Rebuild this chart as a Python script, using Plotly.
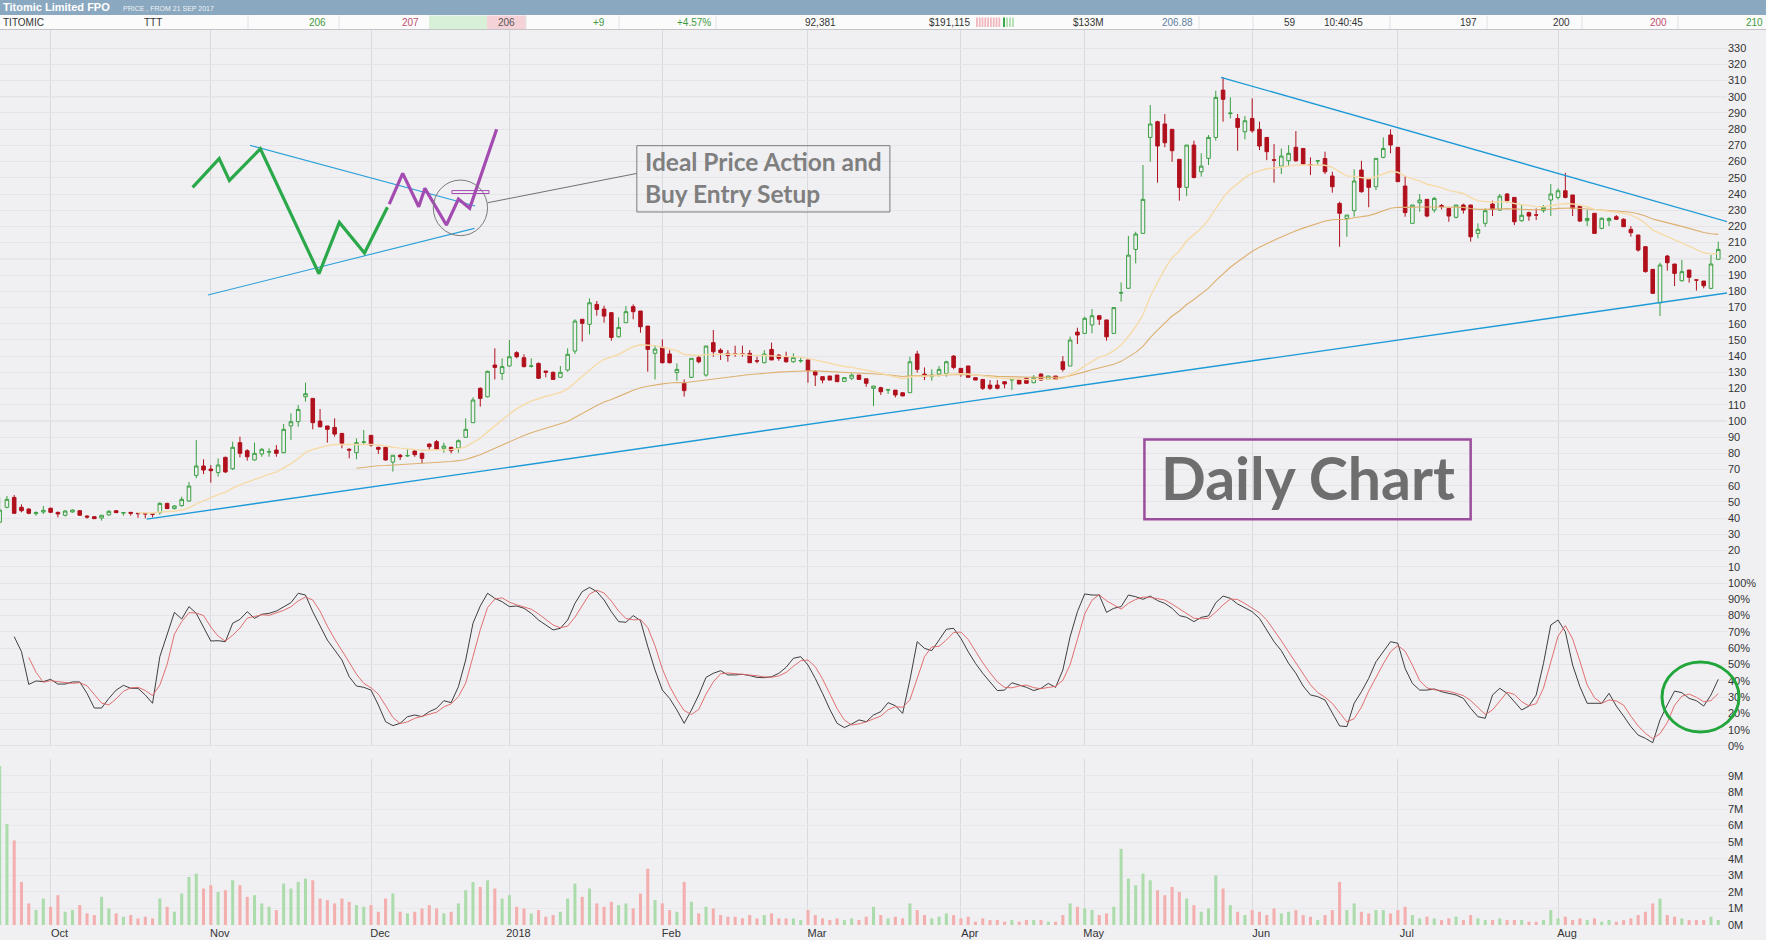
import pandas as pd
import plotly.graph_objects as go

W, H = 1766, 940
BG = "#f0f0f3"

# daily bars, TTT (cents), 21 Sep 2017 -> 31 Aug 2018
OPEN = [
    37.5, 46.7, 52.8, 46.7, 45.6, 42.8, 43.8, 46.1, 43.6, 41.8,
    43.8, 44.6, 41.3, 40.9, 40.1, 42.0, 44.6, 43.2, 43.6, 43.0,
    43.0, 42.6, 43.4, 49.1, 45.9, 47.7, 50.6, 66.4, 72.2, 70.3,
    68.1, 77.5, 70.5, 86.6, 81.6, 75.9, 79.6, 80.8, 82.0, 80.4,
    96.9, 99.5, 114.9, 113.9, 99.9, 96.9, 96.0, 92.3, 82.5, 80.4,
    86.8, 91.1, 83.7, 83.7, 74.6, 78.8, 78.4, 81.4, 80.0, 85.7,
    87.2, 83.1, 83.7, 83.3, 89.9, 98.9, 120.1, 114.9, 134.5, 129.3,
    133.9, 142.1, 139.0, 133.7, 135.5, 130.8, 130.0, 126.9, 131.4, 143.1,
    162.7, 159.6, 171.9, 169.0, 166.8, 151.9, 160.6, 170.5, 167.8, 158.5,
    141.7, 145.4, 141.3, 129.8, 123.2, 126.9, 139.2, 128.3, 148.3, 143.7,
    141.7, 141.4, 141.4, 141.7, 137.1, 135.9, 144.1, 140.6, 139.6, 136.5,
    137.0, 137.6, 130.4, 127.3, 127.7, 128.3, 124.4, 126.3, 128.3, 126.0,
    120.1, 120.5, 119.0, 119.0, 117.4, 117.4, 141.3, 128.9, 127.3, 128.9,
    129.3, 140.0, 132.4, 133.9, 126.7, 125.6, 122.1, 122.1, 124.2, 125.2,
    125.6, 126.3, 123.6, 128.9, 125.6, 127.7, 136.5, 133.9, 154.8, 154.0,
    159.2, 164.9, 162.3, 154.0, 178.9, 181.8, 205.8, 215.7, 274.9, 284.6,
    283.2, 279.9, 261.4, 244.1, 270.2, 253.7, 262.0, 274.9, 304.1, 289.6,
    286.6, 278.4, 286.6, 279.9, 274.9, 261.1, 257.2, 260.5, 268.8, 268.1,
    258.0, 260.4, 261.9, 251.1, 234.2, 224.9, 229.7, 254.8, 249.0, 244.5,
    262.6, 276.4, 268.8, 244.9, 221.9, 234.6, 236.7, 230.1, 232.9, 231.1,
    225.6, 233.2, 233.2, 215.7, 221.9, 233.8, 230.1, 240.0, 237.9, 223.5,
    228.5, 227.1, 229.7, 236.3, 237.9, 242.0, 239.4, 232.6, 223.5, 228.1,
    218.8, 223.5, 226.0, 224.4, 218.2, 214.7, 207.5, 193.5, 172.9, 201.7,
    196.8, 186.5, 193.1, 187.0, 186.3, 181.8, 199.7,
]
HIGH = [
    53.0, 53.7, 54.3, 48.5, 46.1, 44.2, 47.5, 46.5, 44.0, 45.0,
    45.4, 45.0, 41.8, 41.1, 41.8, 45.0, 45.0, 43.8, 43.8, 43.0,
    43.0, 42.6, 49.9, 49.5, 48.0, 53.2, 62.3, 88.2, 76.3, 72.8,
    76.9, 78.0, 87.2, 90.3, 82.5, 86.6, 83.1, 83.1, 85.1, 98.1,
    104.7, 109.8, 123.6, 113.9, 107.3, 96.9, 101.6, 92.3, 83.1, 89.2,
    94.4, 91.1, 84.1, 84.1, 78.8, 79.6, 82.5, 82.0, 80.4, 86.2,
    88.2, 86.6, 84.1, 88.6, 101.6, 114.5, 120.7, 131.0, 144.8, 138.6,
    149.9, 143.0, 141.1, 138.6, 136.0, 130.8, 130.4, 133.9, 144.8, 162.7,
    162.7, 175.6, 174.0, 171.1, 166.8, 163.9, 170.9, 171.9, 167.8, 158.5,
    146.2, 150.3, 143.7, 135.5, 125.6, 138.6, 140.6, 146.2, 156.1, 144.8,
    143.7, 146.4, 146.4, 143.7, 139.6, 143.7, 148.3, 141.3, 142.7, 141.7,
    139.2, 137.6, 131.4, 127.3, 127.7, 128.3, 126.7, 129.3, 128.3, 126.0,
    121.5, 121.1, 119.6, 119.0, 117.4, 139.6, 143.3, 133.0, 131.8, 133.9,
    137.1, 140.6, 132.4, 133.9, 126.7, 125.6, 125.2, 125.2, 124.2, 125.6,
    125.6, 126.3, 128.3, 129.3, 127.7, 127.7, 140.0, 152.0, 157.5, 164.3,
    169.0, 164.9, 162.3, 169.9, 185.5, 214.1, 216.7, 257.9, 294.9, 285.2,
    289.3, 279.9, 261.4, 270.2, 272.9, 265.1, 276.4, 303.7, 312.0, 299.6,
    289.3, 288.1, 299.0, 284.6, 274.9, 270.8, 268.1, 270.2, 278.8, 268.1,
    262.6, 260.5, 266.1, 253.7, 235.2, 227.0, 255.2, 260.5, 249.0, 262.0,
    274.9, 279.9, 268.8, 251.1, 233.2, 240.0, 236.7, 238.3, 233.8, 231.1,
    233.2, 234.0, 233.2, 221.9, 231.1, 235.9, 240.0, 240.6, 237.9, 233.2,
    229.1, 231.1, 233.2, 246.1, 243.5, 253.1, 239.4, 232.6, 230.1, 228.1,
    225.6, 225.6, 227.0, 225.0, 220.2, 214.7, 207.5, 193.5, 197.6, 202.4,
    196.8, 199.3, 193.1, 187.1, 186.3, 202.4, 210.6,
]
LOW = [
    37.0, 46.1, 42.6, 43.6, 42.4, 41.5, 42.6, 43.4, 40.5, 41.0,
    43.4, 41.6, 39.7, 39.5, 38.5, 41.5, 43.2, 41.5, 41.5, 40.3,
    39.9, 40.5, 42.2, 45.6, 45.4, 47.1, 50.0, 64.6, 67.2, 61.9,
    65.6, 68.0, 69.7, 77.5, 75.5, 75.5, 77.9, 77.9, 77.9, 80.0,
    88.2, 96.4, 111.9, 94.8, 96.0, 86.6, 90.3, 83.1, 76.9, 76.3,
    85.7, 84.1, 79.6, 75.5, 68.7, 75.9, 77.9, 77.9, 73.8, 82.0,
    82.5, 80.4, 80.0, 80.4, 89.9, 98.9, 108.8, 114.5, 125.6, 125.2,
    133.5, 138.6, 133.0, 133.0, 126.0, 126.9, 125.6, 126.9, 130.4, 141.3,
    148.9, 153.4, 164.9, 160.6, 149.5, 151.5, 160.6, 162.7, 154.4, 130.4,
    125.6, 135.5, 135.5, 124.8, 115.0, 126.5, 135.5, 127.3, 139.6, 137.6,
    136.5, 139.6, 139.6, 135.9, 135.5, 135.5, 137.6, 137.1, 135.9, 135.9,
    135.9, 123.6, 121.5, 123.2, 125.2, 124.2, 124.4, 125.2, 125.6, 121.1,
    109.2, 116.0, 116.6, 114.5, 115.4, 117.4, 129.8, 125.2, 124.8, 127.3,
    127.3, 131.8, 127.3, 126.9, 125.2, 119.1, 119.1, 119.5, 120.1, 119.1,
    122.8, 123.2, 123.2, 124.8, 125.6, 125.6, 130.4, 133.9, 147.4, 153.6,
    154.0, 159.2, 149.5, 154.0, 173.6, 181.8, 197.2, 215.3, 259.9, 247.0,
    268.8, 259.9, 235.9, 238.7, 249.6, 250.7, 257.9, 272.9, 284.6, 286.6,
    266.7, 273.7, 277.8, 267.1, 260.9, 247.0, 252.3, 257.2, 259.9, 257.9,
    251.7, 257.9, 252.3, 240.8, 207.5, 213.6, 226.0, 240.8, 231.8, 242.4,
    262.0, 265.1, 247.6, 226.0, 221.9, 229.1, 225.6, 228.5, 230.5, 222.9,
    224.9, 227.9, 210.6, 212.6, 219.8, 226.4, 229.7, 234.7, 220.8, 222.9,
    223.5, 223.9, 228.5, 226.4, 236.7, 237.3, 226.4, 222.9, 220.2, 215.7,
    218.2, 220.2, 223.9, 219.8, 213.7, 204.4, 191.5, 178.7, 164.7, 192.7,
    183.2, 186.0, 185.3, 180.4, 181.8, 181.2, 199.7,
]
CLOSE = [
    45.0, 51.6, 43.0, 44.6, 43.0, 43.4, 44.8, 43.6, 42.6, 44.4,
    45.0, 41.8, 40.7, 39.7, 41.8, 44.2, 43.4, 43.4, 43.0, 42.8,
    42.6, 42.4, 49.1, 45.9, 47.5, 51.6, 59.8, 72.2, 69.7, 69.3,
    72.8, 68.5, 83.7, 80.0, 77.9, 80.0, 82.5, 81.0, 80.0, 94.8,
    99.5, 107.1, 116.8, 98.9, 96.4, 94.8, 91.9, 86.2, 82.0, 86.6,
    87.0, 85.1, 82.5, 75.9, 78.8, 77.9, 78.6, 79.2, 76.9, 84.1,
    82.6, 84.5, 81.6, 87.8, 94.8, 112.9, 113.9, 130.6, 133.0, 133.5,
    139.6, 139.6, 133.5, 133.9, 126.3, 130.0, 125.6, 130.0, 141.1, 161.6,
    160.2, 172.9, 168.8, 164.7, 151.5, 157.7, 167.4, 167.4, 158.1, 144.1,
    144.3, 135.9, 135.9, 131.8, 118.7, 138.6, 136.5, 146.2, 142.7, 142.1,
    140.4, 141.2, 141.2, 135.9, 136.9, 141.3, 137.6, 138.6, 136.5, 139.2,
    137.2, 131.0, 128.3, 125.2, 125.2, 124.2, 126.7, 128.3, 125.6, 123.2,
    121.5, 118.0, 119.2, 116.0, 115.4, 136.5, 131.8, 127.3, 128.3, 131.8,
    136.5, 133.0, 129.3, 126.9, 125.2, 120.1, 120.1, 120.1, 122.8, 125.6,
    122.8, 123.2, 126.9, 125.2, 127.7, 125.6, 131.8, 149.9, 153.0, 163.3,
    164.9, 162.7, 151.9, 169.9, 179.1, 202.3, 215.3, 236.7, 283.2, 269.6,
    271.6, 266.7, 244.1, 270.2, 250.2, 257.2, 274.9, 299.6, 298.4, 289.9,
    281.1, 285.2, 279.0, 269.6, 266.1, 260.9, 263.4, 265.1, 260.5, 258.5,
    257.9, 260.5, 253.7, 244.5, 228.1, 227.0, 248.0, 241.4, 244.1, 262.0,
    268.1, 270.2, 247.6, 228.5, 233.2, 236.3, 226.4, 237.3, 232.2, 226.4,
    233.2, 230.1, 213.6, 218.2, 229.7, 230.5, 238.7, 235.9, 222.9, 226.9,
    226.4, 227.0, 231.7, 240.0, 242.0, 237.9, 231.1, 223.3, 224.9, 215.7,
    225.0, 224.9, 224.4, 219.8, 216.1, 205.4, 192.1, 178.7, 196.2, 197.6,
    191.0, 192.1, 188.6, 186.9, 183.4, 196.8, 205.8,
]
# volume, millions of shares
VOLUME_M = [
    9.6, 6.1, 5.1, 2.6, 1.3, 0.9, 1.6, 1.1, 1.8, 0.8,
    0.9, 1.2, 0.7, 0.6, 1.7, 1.0, 0.7, 0.5, 0.6, 0.4,
    0.5, 0.4, 1.6, 1.1, 0.8, 1.9, 2.9, 3.1, 2.2, 2.4,
    2.0, 2.1, 2.7, 2.4, 1.7, 1.8, 1.3, 1.1, 0.9, 2.5,
    2.2, 2.6, 2.8, 2.7, 1.6, 1.5, 1.3, 1.6, 1.4, 1.2,
    1.1, 1.2, 0.8, 1.6, 1.9, 0.8, 0.7, 0.8, 1.0, 1.2,
    1.0, 0.7, 0.8, 1.3, 2.1, 2.6, 2.3, 2.7, 2.2, 1.6,
    1.8, 1.1, 1.0, 0.7, 0.9, 0.5, 0.6, 0.8, 1.6, 2.5,
    1.7, 2.2, 1.3, 1.1, 1.4, 1.2, 1.3, 1.0, 1.9, 3.4,
    1.5, 1.3, 0.9, 0.8, 2.6, 1.4, 0.7, 1.1, 1.0, 0.6,
    0.5, 0.5, 0.4, 0.6, 0.4, 0.6, 0.7, 0.4, 0.4, 0.4,
    0.3, 0.9, 0.6, 0.4, 0.3, 0.4, 0.3, 0.4, 0.3, 0.5,
    1.1, 0.6, 0.4, 0.5, 0.4, 1.3, 0.9, 0.6, 0.4, 0.5,
    0.7, 0.6, 0.4, 0.5, 0.2, 0.4, 0.3, 0.3, 0.2, 0.3,
    0.2, 0.3, 0.3, 0.3, 0.2, 0.2, 0.6, 1.3, 1.1, 1.0,
    0.9, 0.6, 0.7, 1.1, 4.6, 2.8, 2.4, 3.1, 2.7, 2.1,
    1.8, 2.3, 2.0, 1.6, 1.2, 0.8, 1.0, 3.0, 2.2, 1.2,
    0.8, 0.6, 0.9, 0.8, 0.6, 1.0, 0.7, 0.8, 0.9, 0.6,
    0.5, 0.3, 0.6, 0.9, 2.6, 0.9, 1.3, 0.8, 0.7, 0.9,
    0.9, 0.7, 0.9, 1.1, 0.6, 0.4, 0.5, 0.4, 0.3, 0.4,
    0.5, 0.3, 0.6, 0.4, 0.3, 0.3, 0.4, 0.3, 0.3, 0.3,
    0.2, 0.2, 0.3, 0.9, 0.4, 0.5, 0.3, 0.4, 0.3, 0.4,
    0.2, 0.3, 0.2, 0.3, 0.4, 0.6, 0.8, 1.3, 1.6, 0.6,
    0.5, 0.4, 0.3, 0.3, 0.3, 0.5, 0.3,
]
# stochastic %K (the %D line is its 3 day average)
STOCH_K = [
    None, None, 67.1, 57.9, 37.8, 39.9, 39.5, 40.9, 38.0, 38.0,
    39.3, 39.3, 32.3, 23.3, 23.3, 29.2, 34.3, 37.2, 35.4, 35.4,
    31.3, 26.2, 54.8, 69.1, 82.0, 77.9, 85.5, 81.4, 73.2, 64.4,
    64.6, 64.0, 75.3, 77.7, 82.4, 78.3, 80.8, 81.4, 82.8, 85.5,
    87.9, 93.7, 92.6, 82.4, 73.2, 65.0, 58.9, 52.8, 42.5, 36.8,
    36.0, 34.3, 25.2, 14.9, 12.5, 13.9, 18.0, 19.0, 18.0, 21.1,
    23.1, 27.8, 26.6, 36.4, 52.8, 75.3, 85.9, 93.7, 90.6, 88.5,
    85.5, 85.9, 84.5, 81.4, 77.3, 74.2, 71.2, 72.2, 77.3, 87.5,
    94.7, 97.3, 94.7, 89.6, 82.4, 76.3, 75.9, 80.0, 76.9, 61.0,
    46.6, 34.3, 29.2, 22.1, 13.9, 22.1, 31.3, 42.1, 44.6, 46.2,
    43.6, 43.6, 44.0, 43.2, 42.1, 41.9, 42.5, 44.6, 48.3, 53.8,
    54.8, 49.7, 41.5, 32.3, 22.5, 13.9, 11.3, 13.5, 16.0, 14.9,
    19.0, 21.1, 26.6, 24.7, 20.0, 40.5, 64.0, 59.9, 58.5, 65.0,
    71.6, 72.2, 66.0, 57.9, 50.7, 44.6, 39.5, 34.0, 34.3, 38.8,
    37.4, 36.0, 34.0, 35.4, 38.4, 36.0, 46.6, 67.1, 82.4, 93.3,
    92.6, 92.6, 82.0, 84.5, 85.5, 92.6, 91.6, 90.0, 92.0, 89.2,
    87.5, 84.5, 80.0, 78.9, 76.3, 78.9, 79.8, 87.9, 92.0, 90.6,
    87.1, 84.5, 82.4, 78.3, 71.2, 64.0, 58.5, 50.7, 44.6, 36.8,
    31.3, 30.3, 28.2, 20.0, 12.3, 11.9, 26.2, 33.3, 41.5, 51.7,
    57.9, 64.0, 63.0, 47.6, 38.4, 34.3, 34.3, 35.0, 33.3, 32.3,
    31.3, 29.2, 23.1, 18.0, 17.0, 31.3, 35.4, 32.3, 27.2, 22.1,
    24.5, 31.3, 50.7, 74.2, 77.3, 70.1, 49.7, 36.4, 26.2, 26.2,
    26.2, 32.3, 24.5, 18.4, 11.9, 6.7, 4.7, 2.0, 16.0, 25.2,
    33.7, 32.7, 29.2, 27.8, 24.5, 31.3, 40.9,
]

HOLIDAYS = ["2017-12-25", "2017-12-26", "2018-01-01", "2018-01-26",
            "2018-03-30", "2018-04-02", "2018-04-25", "2018-06-11"]
NO_TRADES = ["2018-04-03", "2018-04-04"]
MONTH_LABELS = ["Oct", "Nov", "Dec", "2018", "Feb", "Mar", "Apr", "May", "Jun", "Jul", "Aug"]
PRICE_TICKS = list(range(10, 331, 10))
STOCH_TICKS = list(range(0, 101, 10))
VOL_TICKS = list(range(0, 10))
EMA_FAST, EMA_SLOW = 20, 50

# trend lines drawn on the chart, (bar index, price)
TREND_LOW_X, TREND_LOW_Y = [20.2, 237.4], [39.4, 179.1]
TREND_HIGH_X, TREND_HIGH_Y = [167.7, 237.4], [312.0, 222.7]

# hand drawn "ideal setup" sketch, (bar index, price)
SKETCH_GREEN_X = [26.5, 30.15, 31.55, 35.8, 43.85, 46.65, 50.1, 53.25]
SKETCH_GREEN_Y = [244.1, 261.8, 248.4, 267.9, 190.8, 222.5, 203.6, 231.8]
SKETCH_PURPLE_X = [53.5, 55.35, 57.55, 58.4, 61.35, 63.0, 64.55, 68.25]
SKETCH_PURPLE_Y = [233.8, 252.7, 232.1, 243.5, 220.9, 236.9, 231.2, 279.9]
SKETCH_TOP_X, SKETCH_TOP_Y = [34.4, 65.3], [270.0, 232.6]
SKETCH_BOTTOM_X, SKETCH_BOTTOM_Y = [28.6, 65.2], [177.7, 218.8]

TICKER = [  # text, right edge px, colour
    ("206", 328, "#3f9a3f"), ("207", 421, "#c0506e"), ("206", 517, "#555555"),
    ("+9", 607, "#3f9a3f"), ("+4.57%", 713, "#3f9a3f"), ("92,381", 838, "#333333"),
    ("$191,115", 972, "#333333"), ("$133M", 1106, "#333333"), ("206.88", 1195, "#5f7f9f"),
    ("59", 1298, "#333333"), ("10:40:45", 1365, "#333333"), ("197", 1479, "#333333"),
    ("200", 1572, "#333333"), ("200", 1669, "#c0506e"), ("210", 1765, "#3f9a3f"),
]
TICKER_SEPARATORS = [248, 339, 526, 619, 716, 1199, 1253, 1390, 1487, 1582, 1678]


def fx(px):
    return px / W


def fy(py):
    return 1 - py / H


days = pd.bdate_range("2017-09-21", "2018-08-31")
days = days[~days.isin(pd.to_datetime(HOLIDAYS + NO_TRADES))]
dates = list(days.strftime("%Y-%m-%d"))[:len(CLOSE)]
idx = list(range(len(CLOSE)))
month_starts = [i for i in idx[1:] if dates[i][:7] != dates[i - 1][:7]]

close = pd.Series(CLOSE, dtype=float)
ema_fast = close.ewm(span=EMA_FAST, adjust=False).mean()
ema_fast[:EMA_FAST - 1] = None
ema_slow = close.ewm(span=EMA_SLOW, adjust=False).mean()
ema_slow[:EMA_SLOW - 1] = None
stoch_d = pd.Series(STOCH_K, dtype=float).rolling(3).mean()
vol_colors = ["#acdcac" if c >= o else "#f3aeae" for o, c in zip(OPEN, CLOSE)]

fig = go.Figure()

fig.add_trace(go.Bar(x=idx, y=VOLUME_M, marker=dict(color=vol_colors, line_width=0),
                     width=0.42, xaxis="x", yaxis="y3"))
fig.add_trace(go.Scatter(x=idx, y=STOCH_K, mode="lines", line=dict(color="#2a2a2a", width=0.9),
                         xaxis="x", yaxis="y2"))
fig.add_trace(go.Scatter(x=idx, y=stoch_d, mode="lines", line=dict(color="#e06060", width=0.9),
                         xaxis="x", yaxis="y2"))

for xs, ys in [(TREND_LOW_X, TREND_LOW_Y), (TREND_HIGH_X, TREND_HIGH_Y)]:
    fig.add_trace(go.Scatter(x=xs, y=ys, mode="lines", line=dict(color="#1e9ad6", width=1.4)))
fig.add_trace(go.Scatter(x=idx, y=ema_slow, mode="lines", line=dict(color="#ddb070", width=1.1)))
fig.add_trace(go.Scatter(x=idx, y=ema_fast, mode="lines", line=dict(color="#f6dba8", width=1.4)))
fig.add_trace(go.Candlestick(
    x=idx, open=OPEN, high=HIGH, low=LOW, close=CLOSE, whiskerwidth=0,
    increasing=dict(line=dict(color="#3a9f42", width=1), fillcolor=BG),
    decreasing=dict(line=dict(color="#b0101c", width=1), fillcolor="#b0101c"),
))

for xs, ys in [(SKETCH_TOP_X, SKETCH_TOP_Y), (SKETCH_BOTTOM_X, SKETCH_BOTTOM_Y)]:
    fig.add_trace(go.Scatter(x=xs, y=ys, mode="lines", line=dict(color="#2aa0d8", width=1.1)))
fig.add_trace(go.Scatter(x=SKETCH_GREEN_X, y=SKETCH_GREEN_Y, mode="lines",
                         line=dict(color="#2aa84a", width=3.2)))
fig.add_trace(go.Scatter(x=SKETCH_PURPLE_X, y=SKETCH_PURPLE_Y, mode="lines",
                         line=dict(color="#a34bb0", width=3.2)))

plot_right = fx(1727)
shapes = []
# darker guide lines
for v in (100, 200, 300):
    shapes.append(dict(type="line", xref="paper", yref="y", x0=0, x1=plot_right, y0=v, y1=v,
                       line=dict(color="#d6d6db", width=1), layer="below"))
for v in (0, 100):
    shapes.append(dict(type="line", xref="paper", yref="y2", x0=0, x1=plot_right, y0=v, y1=v,
                       line=dict(color="#d6d6db", width=1), layer="below"))

# sketch decorations
shapes += [
    dict(type="circle", xref="x", yref="y", x0=59.55, x1=67.0, y0=214.3, y1=248.6,
         line=dict(color="#7a7a7a", width=1)),
    dict(type="rect", xref="x", yref="y", x0=62.1, x1=67.2, y0=240.3, y1=242.1,
         line=dict(color="#a34bb0", width=1)),
    dict(type="line", xref="x", yref="y", x0=67.0, y0=234.6, x1=87.5, y1=252.7,
         line=dict(color="#707070", width=1)),
    dict(type="rect", xref="x", yref="y", x0=87.5, x1=122.25, y0=228.9, y1=269.8,
         line=dict(color="#7c7c7c", width=1)),
    dict(type="rect", xref="x", yref="y", x0=157.2, x1=202.0, y0=39.4, y1=88.6,
         line=dict(color="#9b4d9d", width=2.5)),
    dict(type="circle", xref="paper", yref="paper", x0=fx(1662), x1=fx(1739),
         y0=fy(732), y1=fy(662), line=dict(color="#22a63c", width=3)),
]

# header bar and ticker row
shapes += [
    dict(type="rect", xref="paper", yref="paper", x0=0, x1=1, y0=fy(15), y1=1,
         fillcolor="#8aa8bf", line_width=0),
    dict(type="rect", xref="paper", yref="paper", x0=0, x1=1, y0=fy(29.5), y1=fy(15),
         fillcolor="#fbfbfb", line_width=0),
    dict(type="line", xref="paper", yref="paper", x0=0, x1=1, y0=fy(29.5), y1=fy(29.5),
         line=dict(color="#c4c4c8", width=1)),
    dict(type="rect", xref="paper", yref="paper", x0=fx(429), x1=fx(487), y0=fy(29), y1=fy(15.5),
         fillcolor="#d7f0d7", line_width=0),
    dict(type="rect", xref="paper", yref="paper", x0=fx(487), x1=fx(526), y0=fy(29), y1=fy(15.5),
         fillcolor="#f5d2d8", line_width=0),
]
for sx in TICKER_SEPARATORS:
    shapes.append(dict(type="line", xref="paper", yref="paper", x0=fx(sx), x1=fx(sx),
                       y0=fy(29), y1=fy(15.5), line=dict(color="#e2e2e6", width=1)))
for k in range(9):
    shapes.append(dict(type="rect", xref="paper", yref="paper", x0=fx(976 + k * 2.8),
                       x1=fx(977.8 + k * 2.8), y0=fy(27), y1=fy(17.5),
                       fillcolor="#f2b8c0", line_width=0))
for k, col in enumerate(["#3aa84a", "#b6e2b6", "#b6e2b6", "#b6e2b6"]):
    shapes.append(dict(type="rect", xref="paper", yref="paper", x0=fx(1003 + k * 3),
                       x1=fx(1005 + k * 3), y0=fy(27), y1=fy(17.5),
                       fillcolor=col, line_width=0))

annotations = [
    dict(xref="paper", yref="paper", x=fx(1), y=fy(7.5), xanchor="left", yanchor="middle",
         text="<b>Titomic Limited FPO</b>", showarrow=False,
         font=dict(family="Liberation Sans", size=11, color="white")),
    dict(xref="paper", yref="paper", x=fx(121), y=fy(8), xanchor="left", yanchor="middle",
         text="PRICE , FROM 21 SEP 2017", showarrow=False,
         font=dict(family="Liberation Sans", size=7, color="#eef2f6")),
    dict(xref="paper", yref="paper", x=fx(1), y=fy(22.5), xanchor="left", yanchor="middle",
         text="TITOMIC", showarrow=False, font=dict(size=10, color="#333333")),
    dict(xref="paper", yref="paper", x=fx(142), y=fy(22.5), xanchor="left", yanchor="middle",
         text="TTT", showarrow=False, font=dict(size=10, color="#333333")),
    dict(xref="x", yref="y", x=88.3, y=260.3, xanchor="left", yanchor="middle",
         text="<b>Ideal Price Action and</b>", showarrow=False,
         font=dict(family="Lato", size=24.5, color="#7f7f7f")),
    dict(xref="x", yref="y", x=88.3, y=240.0, xanchor="left", yanchor="middle",
         text="<b>Buy Entry Setup</b>", showarrow=False,
         font=dict(family="Lato", size=24.5, color="#7f7f7f")),
    dict(xref="x", yref="y", x=179.6, y=65.0, xanchor="center", yanchor="middle",
         text="<b>Daily Chart</b>", showarrow=False,
         font=dict(family="Lato", size=59, color="#6e6e6e")),
]
for text, right, col in TICKER:
    annotations.append(dict(xref="paper", yref="paper", x=fx(right), y=fy(22.5), xanchor="right",
                            yanchor="middle", text=text, showarrow=False,
                            font=dict(size=10, color=col)))

axis_font = dict(family="Liberation Sans", size=11, color="#333333")
fig.update_layout(
    width=W, height=H, margin=dict(l=0, r=0, t=0, b=0),
    paper_bgcolor=BG, plot_bgcolor=BG, showlegend=False, template="none",
    font=dict(family="Liberation Sans", size=11, color="#333333"),
    hovermode=False,
    xaxis=dict(domain=[0, plot_right], range=[0.05, 237.2], anchor="y3",
               tickvals=month_starts, ticktext=MONTH_LABELS, ticks="", tickfont=axis_font,
               ticklabelshift=9, showgrid=True, gridcolor="#d9d9de", gridwidth=1,
               zeroline=False, showline=False, rangeslider=dict(visible=False),
               automargin=False),
    yaxis=dict(domain=[fy(583), fy(29)], range=[0, 341.8], anchor="x", side="right",
               tickvals=PRICE_TICKS, ticks="", tickfont=axis_font, showgrid=True,
               gridcolor="#e5e5e9", zeroline=False, showline=False, automargin=False),
    yaxis2=dict(domain=[fy(746), fy(583)], range=[0, 100], anchor="x", side="right",
                tickvals=STOCH_TICKS, ticktext=[f"{v}%" for v in STOCH_TICKS], ticks="",
                tickfont=axis_font, showgrid=True, gridcolor="#e5e5e9", zeroline=False,
                showline=False, automargin=False),
    yaxis3=dict(domain=[fy(925), fy(759)], range=[0, 10.02], anchor="x", side="right",
                tickvals=VOL_TICKS, ticktext=[f"{v}M" for v in VOL_TICKS], ticks="",
                tickfont=axis_font, showgrid=True, gridcolor="#e8e8ec", zeroline=False,
                showline=False, automargin=False),
    shapes=shapes,
    annotations=annotations,
)

fig.write_html("out.html", config={"displayModeBar": False},
               post_script="document.body.style.margin='0';")
